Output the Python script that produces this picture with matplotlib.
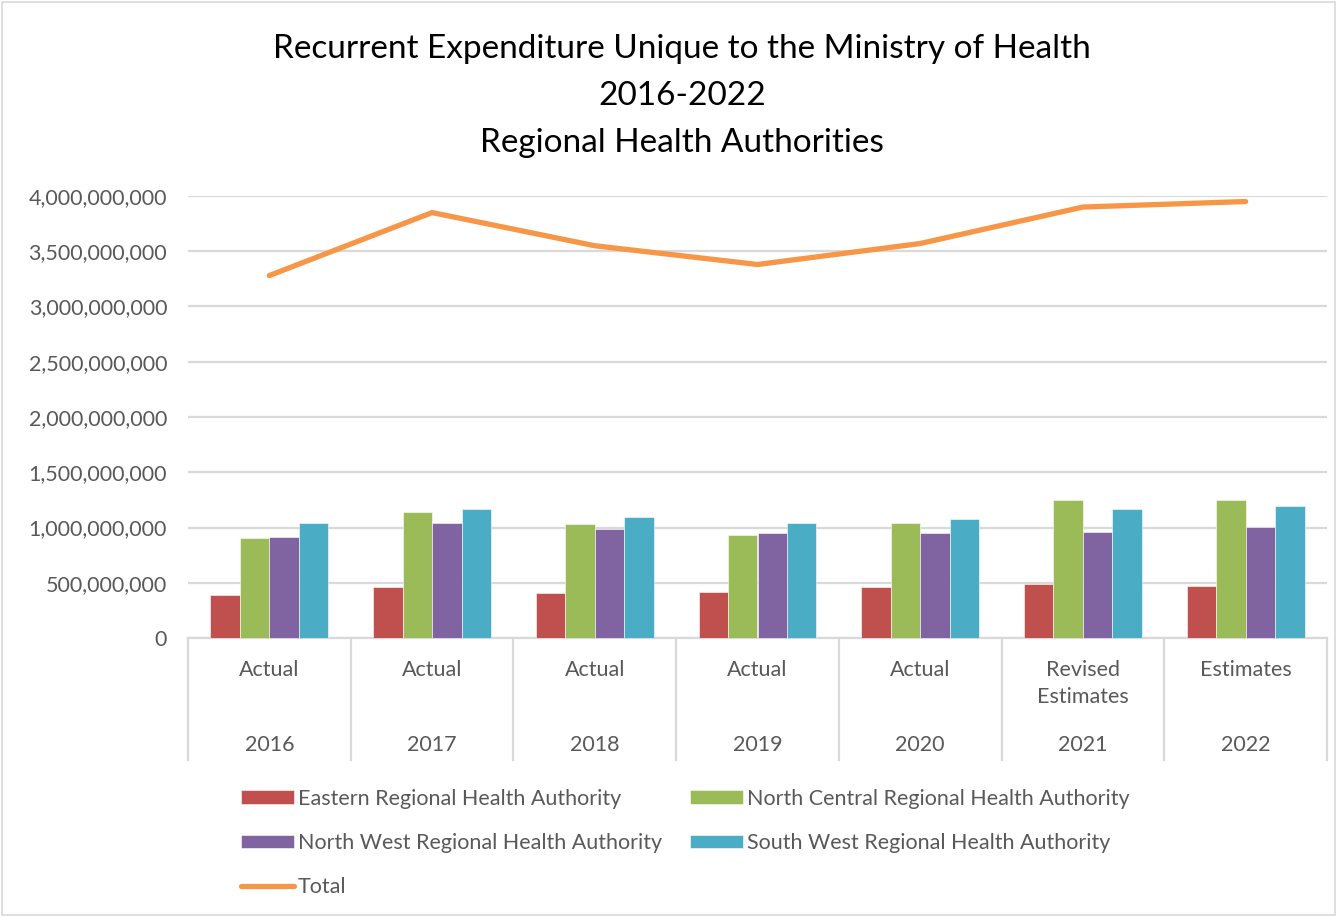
import numpy as np
import matplotlib
matplotlib.use("Agg")
import matplotlib.pyplot as plt
from matplotlib.patches import Rectangle
from matplotlib.lines import Line2D
from matplotlib.ticker import FuncFormatter

# %% data
years = ["2016", "2017", "2018", "2019", "2020", "2021", "2022"]
stages = ["Actual", "Actual", "Actual", "Actual", "Actual", "Revised\nEstimates", "Estimates"]

eastern = [385e6, 460e6, 405e6, 418e6, 460e6, 493e6, 469e6]
north_central = [907e6, 1142e6, 1030e6, 934e6, 1045e6, 1253e6, 1247e6]
north_west = [910e6, 1045e6, 985e6, 952e6, 952e6, 961e6, 1003e6]
south_west = [1045e6, 1166e6, 1097e6, 1039e6, 1075e6, 1163e6, 1196e6]
total = [3.28e9, 3.85e9, 3.55e9, 3.38e9, 3.57e9, 3.90e9, 3.95e9]

series_names = ["Eastern Regional Health Authority",
                "North Central Regional Health Authority",
                "North West Regional Health Authority",
                "South West Regional Health Authority"]
colors = ["#C0504D", "#9BBB59", "#8064A2", "#4BACC6"]
line_color = "#F79646"
text_color = "#595959"
grid_color = "#D9D9D9"
fs = 15.5

# %% figure
plt.rcParams['font.family'] = ['Lato', 'DejaVu Sans']

fig = plt.figure(figsize=(13.38, 9.17), dpi=100)
ax = fig.add_axes([188 / 1338, 1 - 638 / 917, (1327 - 188) / 1338, (638 - 196) / 917])

x = np.arange(len(years))
width = 0.181
bar_handles = []
for i, (vals, col) in enumerate(zip([eastern, north_central, north_west, south_west], colors)):
    b = ax.bar(x + (i - 1.5) * width, vals, width, color=col,
               edgecolor="white", linewidth=0.4, zorder=3, label=series_names[i])
    bar_handles.append(b)

line_handle, = ax.plot(x, total, color=line_color, linewidth=3.8,
                       solid_capstyle="round", solid_joinstyle="miter", zorder=4, label="Total")

ax.set_xlim(-0.5, len(years) - 0.5)
ax.set_ylim(0, 4e9)
ax.set_yticks(np.arange(0, 4.01e9, 5e8))
ax.yaxis.set_major_formatter(FuncFormatter(lambda v, p: f"{v:,.0f}"))
ax.tick_params(axis="y", length=0, pad=15, labelsize=fs, labelcolor=text_color)
ax.set_xticks([])
ax.grid(axis="y", color=grid_color, linewidth=1.6, zorder=0)
for s in ["top", "right", "left"]:
    ax.spines[s].set_visible(False)
ax.spines["bottom"].set_color(grid_color)
ax.spines["bottom"].set_linewidth(1.6)

# two-level category axis
trans = ax.get_xaxis_transform()
for xi, (st, yr) in enumerate(zip(stages, years)):
    ax.text(xi, -0.049, st, transform=trans, ha="center", va="top",
            fontsize=fs, color=text_color, linespacing=1.45)
    ax.text(xi, -0.242, yr, transform=trans, ha="center", va="center",
            fontsize=fs, color=text_color)
for b in np.arange(-0.5, len(years), 1.0):
    ax.add_line(Line2D([b, b], [0, -0.276], transform=trans, color=grid_color,
                       linewidth=1.6, clip_on=False))

# title
fig.text(682 / 1338, 1 - 96 / 917,
         "Recurrent Expenditure Unique to the Ministry of Health\n2016-2022\nRegional Health Authorities",
         ha="center", va="center", fontsize=24, color="black", linespacing=1.72)

# legend
handles = [bar_handles[0], bar_handles[2], line_handle, bar_handles[1], bar_handles[3]]
labels = [h.get_label() for h in handles]
fig.legend(handles, labels, ncol=2, loc="upper left",
           bbox_to_anchor=(230 / 1338, 1 - 778 / 917), frameon=False, borderpad=0,
           fontsize=fs, labelcolor=text_color, handlelength=2.45, handleheight=0.6,
           handletextpad=0.2, columnspacing=1.3, labelspacing=1.13)

fig.patches.append(Rectangle((0.0015, 0.002), 0.996, 0.996, transform=fig.transFigure,
                             fill=False, edgecolor=grid_color, linewidth=1.2))

fig.savefig("out.png", dpi=100)
